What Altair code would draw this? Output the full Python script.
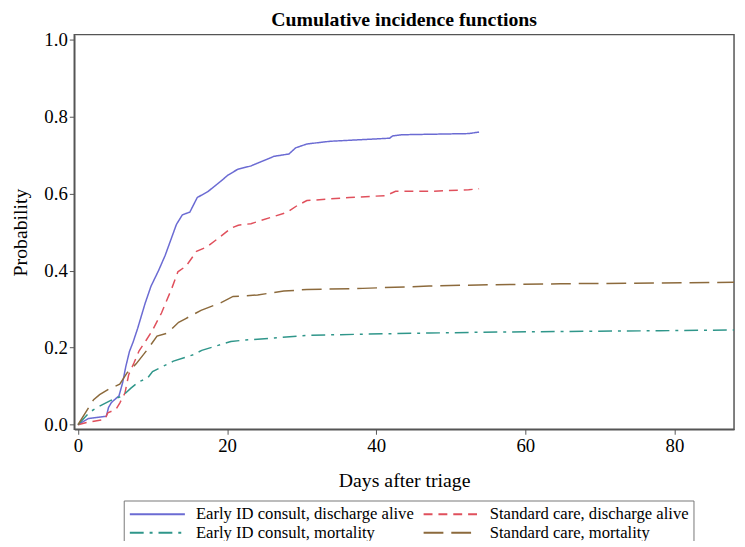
import altair as alt
import pandas as pd

series_names = [
    "Early ID consult, discharge alive",
    "Standard care, discharge alive",
    "Early ID consult, mortality",
    "Standard care, mortality",
]

ei_dis_day = [0, 1.4, 3.8, 4.1, 4.5, 5.5, 6.0, 6.4, 6.9, 7.4, 8.0, 9.0, 9.8, 10.8, 11.7, 12.6, 13.2,
              14.0, 15.0, 16.0, 17.4, 19.2, 20.1, 21.4, 23.2, 26.3, 28.3, 29.2, 30.7, 33.8, 41.8,
              42.2, 43.5, 52.4, 53.8]
ei_dis_p = [0, 0.016, 0.022, 0.045, 0.058, 0.075, 0.11, 0.15, 0.19, 0.215, 0.25, 0.315, 0.36, 0.40,
            0.44, 0.488, 0.52, 0.545, 0.552, 0.59, 0.605, 0.633, 0.648, 0.663, 0.672, 0.697, 0.703,
            0.719, 0.729, 0.736, 0.744, 0.75, 0.753, 0.756, 0.76]

sc_dis_day = [0, 1.2, 3.6, 4.0, 5.1, 5.6, 6.3, 6.8, 7.5, 8.2, 9.1, 9.9, 11.2, 12.6, 13.4, 14.5, 15.9,
              17.3, 18.8, 20.5, 21.5, 23.2, 28.1, 29.4, 30.7, 36.4, 41.3, 42.6, 47.1, 52.4, 53.8]
sc_dis_p = [0, 0.006, 0.014, 0.031, 0.04, 0.056, 0.082, 0.13, 0.16, 0.192, 0.218, 0.242, 0.29, 0.355,
            0.397, 0.412, 0.45, 0.462, 0.484, 0.51, 0.518, 0.522, 0.552, 0.569, 0.582, 0.59, 0.595,
            0.606, 0.606, 0.61, 0.613]

ei_mort_day = [0, 1.6, 2.7, 4.4, 6.0, 7.1, 8.2, 9.3, 10.0, 12.8, 15.5, 16.6, 18.8, 20.5, 22.5, 26.3,
               30.7, 38.2, 47.1, 53.7, 64.7, 78.0, 88.0]
ei_mort_p = [0, 0.033, 0.046, 0.063, 0.075, 0.095, 0.112, 0.12, 0.138, 0.165, 0.182, 0.193, 0.206,
             0.216, 0.22, 0.225, 0.232, 0.235, 0.238, 0.24, 0.242, 0.244, 0.246]

sc_mort_day = [0, 2.1, 2.9, 4.2, 5.6, 6.6, 7.8, 9.3, 10.6, 12.0, 13.5, 14.4, 16.5, 19.2, 20.8, 22.1,
               24.1, 27.6, 30.7, 38.2, 47.1, 53.7, 64.7, 78.0, 88.0]
sc_mort_p = [0, 0.065, 0.078, 0.093, 0.105, 0.135, 0.158, 0.195, 0.23, 0.238, 0.266, 0.275, 0.297,
             0.317, 0.333, 0.334, 0.337, 0.347, 0.351, 0.354, 0.36, 0.363, 0.366, 0.368, 0.37]

colors = ["#6b6bd3", "#e0505c", "#2f968a", "#8c6a3c"]
dashes = [[1, 0], [9, 6], [14, 6, 3, 6], [20, 8]]

x_ticks = [0, 20, 40, 60, 80]
y_ticks = [0.0, 0.2, 0.4, 0.6, 0.8, 1.0]

rows = []
for name, days, ps in zip(series_names,
                          [ei_dis_day, sc_dis_day, ei_mort_day, sc_mort_day],
                          [ei_dis_p, sc_dis_p, ei_mort_p, sc_mort_p]):
    for i, (d, p) in enumerate(zip(days, ps)):
        rows.append({"series": name, "day": d, "p": p, "idx": i})
df = pd.DataFrame(rows)

FONT = "Liberation Serif"

legend = alt.Legend(
    title=None, orient="none", legendX=50, legendY=471, columns=2, direction="horizontal",
    symbolType="stroke", symbolSize=3100, symbolStrokeWidth=2, clipHeight=17,
    labelFont=FONT, labelFontSize=16.8, labelColor="#000", labelLimit=400,
    labelOffset=10, padding=5, strokeColor="#777", fillColor="white",
    rowPadding=1, columnPadding=8,
)

chart = alt.Chart(df).mark_line(strokeWidth=1.5, clip=True).encode(
    x=alt.X("day:Q", scale=alt.Scale(domain=[-0.5, 88], nice=False, zero=False),
            axis=alt.Axis(values=x_ticks, title="Days after triage", format="d",
                          titleY=52, titleBaseline="middle")),
    y=alt.Y("p:Q", scale=alt.Scale(domain=[-0.012, 1.013], nice=False, zero=False),
            axis=alt.Axis(values=y_ticks, format=".1f", title="Probability",
                          titleX=-54, titleY=199.5, titleAngle=270,
                          titleBaseline="middle", titleAlign="center")),
    color=alt.Color("series:N", scale=alt.Scale(domain=series_names, range=colors), legend=legend),
    strokeDash=alt.StrokeDash("series:N", scale=alt.Scale(domain=series_names, range=dashes),
                              legend=legend),
    order="idx:Q",
).properties(
    width=667, height=399,
    padding={"left": 67, "top": 24, "right": 3, "bottom": 110},
    autosize=alt.AutoSizeParams(type="none"),
    title=alt.Title("Cumulative incidence functions", font=FONT, fontSize=20,
                    fontWeight="bold", offset=1, anchor="middle", color="#000"),
).configure_view(
    stroke="#555", strokeWidth=1.5
).configure_axis(
    grid=False, domainColor="#555", domainWidth=1.5, tickColor="#555", tickSize=5,
    labelFont=FONT, labelFontSize=19, labelColor="#000", labelPadding=2,
    titleFont=FONT, titleFontSize=20, titleFontWeight="normal", titleColor="#000",
)

chart.save("out.html", embed_options={"renderer": "svg", "actions": False})
